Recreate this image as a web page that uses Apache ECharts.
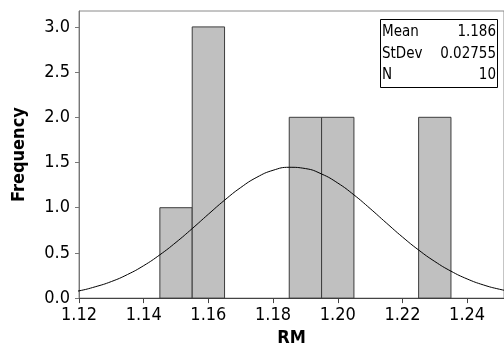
<!DOCTYPE html>
<html>
<head>
<meta charset="utf-8">
<script src="https://cdn.jsdelivr.net/npm/echarts@6/dist/echarts.min.js"></script>
<style>
html,body{margin:0;padding:0;background:#fff;}
#chart{width:504px;height:352px;}
</style>
</head>
<body>
<div id="chart"></div>
<script>
// Histogram bins (centers) and frequencies
const binCenters = [1.15, 1.16, 1.19, 1.20, 1.23];
const counts = [1, 3, 2, 2, 2];
const binWidth = 0.01;

// Fitted curve
const curveX = [1.115, 1.120, 1.125, 1.130, 1.135, 1.140, 1.145, 1.150, 1.155, 1.160,
                1.165, 1.170, 1.175, 1.180, 1.185, 1.190, 1.195, 1.200, 1.205, 1.210,
                1.215, 1.220, 1.225, 1.230, 1.235, 1.240, 1.245, 1.250, 1.255];
const curveY = [0.05, 0.08, 0.125, 0.183, 0.261, 0.359, 0.479, 0.617, 0.769, 0.928,
                1.083, 1.223, 1.337, 1.414, 1.447, 1.433, 1.373, 1.273, 1.142, 0.991,
                0.832, 0.676, 0.532, 0.405, 0.298, 0.212, 0.146, 0.098, 0.063];

// Tick labels
const xTicks = [1.12, 1.14, 1.16, 1.18, 1.20, 1.22, 1.24];
const yTicks = [0, 0.5, 1.0, 1.5, 2.0, 2.5, 3.0];

// Stats box
const statLabels = ['Mean', 'StDev', 'N'];
const statValues = ['1.186', '0.02755', '10'];

const FONT = "'DejaVu Sans Condensed', 'DejaVu Sans', sans-serif";

const chart = echarts.init(document.getElementById('chart'), null, {renderer: 'canvas'});

const statTexts = [];
statLabels.forEach((lab, i) => {
  statTexts.push({
    type: 'text', left: 382, top: 25 + i * 21.3,
    style: {text: lab, font: '15px ' + FONT, fill: '#000'}
  });
  statTexts.push({
    type: 'text', right: 8, top: 25 + i * 21.3,
    style: {text: statValues[i], font: '15px ' + FONT, fill: '#000', align: 'right'}
  });
});

chart.setOption({
  animation: false,
  backgroundColor: '#fff',
  grid: {
    left: 79, top: 11, width: 426, height: 288,
    show: true, borderColor: '#8a8a8a', borderWidth: 1, backgroundColor: 'transparent'
  },
  xAxis: {
    type: 'value', min: 1.12, max: 1.2514, interval: 0.02,
    name: 'RM', nameLocation: 'middle', nameGap: 30,
    nameTextStyle: {fontFamily: FONT, fontSize: 18, fontWeight: 'bold', color: '#000'},
    axisLine: {show: true, lineStyle: {color: '#444', width: 1}},
    axisTick: {show: true, length: 5, lineStyle: {color: '#444'}, customValues: xTicks},
    axisLabel: {
      show: true, margin: 8, color: '#000', fontFamily: FONT, fontSize: 18,
      customValues: xTicks, formatter: v => Number(v).toFixed(2)
    },
    splitLine: {show: false}
  },
  yAxis: {
    type: 'value', min: 0, max: 3.176, interval: 0.5,
    name: 'Frequency', nameLocation: 'middle', nameGap: 51,
    nameTextStyle: {fontFamily: FONT, fontSize: 18, fontWeight: 'bold', color: '#000'},
    axisLine: {show: true, lineStyle: {color: '#777', width: 1}},
    axisTick: {show: true, length: 4, lineStyle: {color: '#777'}, customValues: yTicks},
    axisLabel: {
      show: true, margin: 9, color: '#000', fontFamily: FONT, fontSize: 18,
      customValues: yTicks, formatter: v => Number(v).toFixed(1)
    },
    splitLine: {show: false}
  },
  series: [
    {
      type: 'custom',
      data: binCenters.map((c, i) => [c, counts[i]]),
      renderItem: function (params, api) {
        const c = api.value(0), n = api.value(1);
        const p0 = api.coord([c - binWidth / 2, n]);
        const p1 = api.coord([c + binWidth / 2, 0]);
        return {
          type: 'rect',
          shape: {x: p0[0], y: p0[1], width: p1[0] - p0[0], height: p1[1] - p0[1]},
          style: {fill: '#c0c0c0', stroke: '#3c3c3c', lineWidth: 1}
        };
      },
      z: 2
    },
    {
      type: 'line',
      data: curveX.map((x, i) => [x, curveY[i]]),
      smooth: true, symbol: 'none', clip: true,
      lineStyle: {color: '#000', width: 1},
      z: 3
    }
  ],
  graphic: [
    {
      type: 'rect', left: 380, top: 19,
      shape: {width: 117, height: 68},
      style: {fill: '#fff', stroke: '#000', lineWidth: 1},
      z: 10
    }
  ].concat(statTexts.map(t => Object.assign(t, {z: 11})))
});
</script>
</body>
</html>
